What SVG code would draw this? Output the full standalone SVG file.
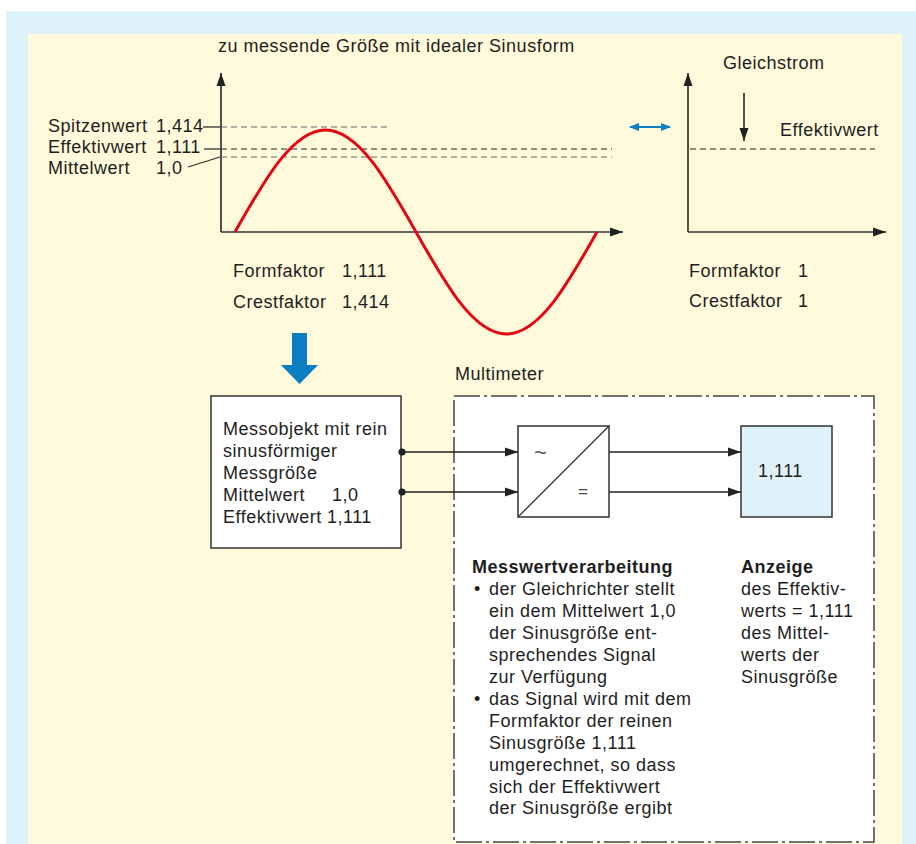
<svg xmlns="http://www.w3.org/2000/svg" width="916" height="844" viewBox="0 0 916 844">
<defs>
<marker id="ah" markerUnits="userSpaceOnUse" markerWidth="14" markerHeight="10" refX="13" refY="5" orient="auto"><path d="M0,0.5 L13,5 L0,9.5 z" fill="#222"/></marker>
<marker id="axh" markerUnits="userSpaceOnUse" markerWidth="14" markerHeight="10" refX="13" refY="5" orient="auto"><path d="M0,0.5 L13,5 L0,9.5 z" fill="#222"/></marker>
<marker id="bh" markerUnits="userSpaceOnUse" markerWidth="10" markerHeight="10" refX="9" refY="5" orient="auto-start-reverse"><path d="M0,1 L10,5 L0,9 z" fill="#0a7ec2"/></marker>
<marker id="dot" markerUnits="userSpaceOnUse" markerWidth="9" markerHeight="9" refX="4.5" refY="4.5"><circle cx="4.5" cy="4.5" r="3.6" fill="#222"/></marker>
</defs>
<style>
text{font-family:"Liberation Sans",Arial,Helvetica,sans-serif;font-size:18px;fill:#1e1e1e;letter-spacing:0.5px}
.b{font-weight:bold}
.ax{stroke:#333;stroke-width:1.7;fill:none}
.dk{stroke:#222;stroke-width:1.2;stroke-dasharray:6 4;fill:none}
.gr{stroke:#666;stroke-width:1.2;stroke-dasharray:6 4;fill:none}
.ln{stroke:#333;stroke-width:1.3;fill:none}
.box{stroke:#333;stroke-width:1.5;fill:#fff}
.conn{stroke:#222;stroke-width:1.3;fill:none}
</style>
<rect x="0" y="0" width="916" height="844" fill="#fff"/>
<rect x="6" y="11" width="910" height="833" fill="#dff1f9"/>
<rect x="28" y="34" width="874" height="810" fill="#fefadb"/>

<g id="sine-chart">
<text x="218" y="52">zu messende Größe mit idealer Sinusform</text>
<line class="ax" x1="221" y1="232" x2="221" y2="73" marker-end="url(#axh)"/>
<line class="ax" x1="221" y1="232" x2="623" y2="232" marker-end="url(#axh)"/>
<line class="ln" x1="203" y1="127" x2="221" y2="127"/>
<line class="gr" x1="221" y1="127" x2="387" y2="127"/>
<line class="ln" x1="204" y1="149" x2="221" y2="149"/>
<line class="dk" x1="221" y1="149" x2="612" y2="149"/>
<line class="gr" x1="221" y1="157" x2="612" y2="157"/>
<line class="ln" x1="188" y1="167" x2="220" y2="157"/>
<path d="M235,232 C264.5,179.7 292.8,130 325.5,130 C358.2,130 386.5,179.7 416,232 C445.5,284.3 473.8,334 506.5,334 C539.2,334 567.5,284.3 597,232" fill="none" stroke="#e30613" stroke-width="3"/>
<text x="48" y="132">Spitzenwert</text><text x="156" y="132">1,414</text>
<text x="48" y="153">Effektivwert</text><text x="156" y="153">1,111</text>
<text x="48" y="174">Mittelwert</text><text x="156" y="174">1,0</text>
<text x="233" y="277">Formfaktor</text><text x="342" y="277">1,111</text>
<text x="233" y="308">Crestfaktor</text><text x="342" y="308">1,414</text>
</g>

<g id="equivalence-arrow">
<line x1="630" y1="127" x2="670" y2="127" stroke="#0a7ec2" stroke-width="2" marker-start="url(#bh)" marker-end="url(#bh)"/>
</g>

<g id="dc-chart">
<text x="723" y="69">Gleichstrom</text>
<line class="ax" x1="744" y1="93" x2="744" y2="141" marker-end="url(#axh)"/>
<text x="780" y="136">Effektivwert</text>
<line class="ax" x1="688" y1="232" x2="688" y2="73" marker-end="url(#axh)"/>
<line class="ax" x1="688" y1="232" x2="886" y2="232" marker-end="url(#axh)"/>
<line class="dk" x1="690" y1="149" x2="875" y2="149"/>
<text x="689" y="277">Formfaktor</text><text x="798" y="277">1</text>
<text x="689" y="307">Crestfaktor</text><text x="798" y="307">1</text>
</g>

<g id="down-arrow">
<polygon points="292,333 307,333 307,365 318,365 299.5,384 281,365 292,365" fill="#0a7ec2"/>
</g>

<g id="messobjekt">
<rect class="box" x="211" y="396" width="190" height="152"/>
<text x="223" y="435">Messobjekt mit rein</text>
<text x="223" y="457">sinusförmiger</text>
<text x="223" y="479">Messgröße</text>
<text x="223" y="501">Mittelwert</text><text x="332" y="501">1,0</text>
<text x="223" y="523">Effektivwert</text><text x="327" y="523">1,111</text>
</g>

<g id="multimeter">
<text x="455" y="380">Multimeter</text>
<rect x="454" y="396" width="420" height="446" fill="#fff" stroke="#444" stroke-width="1.5" stroke-dasharray="26 4 3 4"/>
</g>

<g id="gleichrichter">
<rect class="box" x="518" y="426" width="91" height="91"/>
<line class="ln" x1="518" y1="517" x2="609" y2="426"/>
<text x="534" y="460" style="font-size:22px;fill:#555;letter-spacing:0">~</text>
<text x="578" y="497" style="font-size:17px;fill:#444">=</text>
</g>

<g id="anzeige">
<rect x="741" y="426" width="91" height="91" fill="#dff1f9" stroke="#333" stroke-width="1.5"/>
<text x="758" y="477">1,111</text>
</g>

<g id="connectors">
<line class="conn" x1="402" y1="452" x2="518" y2="452" marker-start="url(#dot)" marker-end="url(#ah)"/>
<line class="conn" x1="402" y1="492" x2="518" y2="492" marker-start="url(#dot)" marker-end="url(#ah)"/>
<line class="conn" x1="609" y1="452" x2="741" y2="452" marker-end="url(#ah)"/>
<line class="conn" x1="609" y1="492" x2="741" y2="492" marker-end="url(#ah)"/>
</g>

<g id="messwertverarbeitung">
<text x="472" y="573" class="b">Messwertverarbeitung</text>
<text x="474" y="595">•</text>
<text x="489" y="595">der Gleichrichter stellt</text>
<text x="489" y="617">ein dem Mittelwert 1,0</text>
<text x="489" y="639">der Sinusgröße ent-</text>
<text x="489" y="661">sprechendes Signal</text>
<text x="489" y="683">zur Verfügung</text>
<text x="474" y="705">•</text>
<text x="489" y="705">das Signal wird mit dem</text>
<text x="489" y="727">Formfaktor der reinen</text>
<text x="489" y="749">Sinusgröße 1,111</text>
<text x="489" y="771">umgerechnet, so dass</text>
<text x="489" y="793">sich der Effektivwert</text>
<text x="489" y="814">der Sinusgröße ergibt</text>
</g>

<g id="anzeige-text">
<text x="741" y="573" class="b">Anzeige</text>
<text x="741" y="595">des Effektiv-</text>
<text x="741" y="617">werts = 1,111</text>
<text x="741" y="639">des Mittel-</text>
<text x="741" y="661">werts der</text>
<text x="741" y="683">Sinusgröße</text>
</g>
</svg>
